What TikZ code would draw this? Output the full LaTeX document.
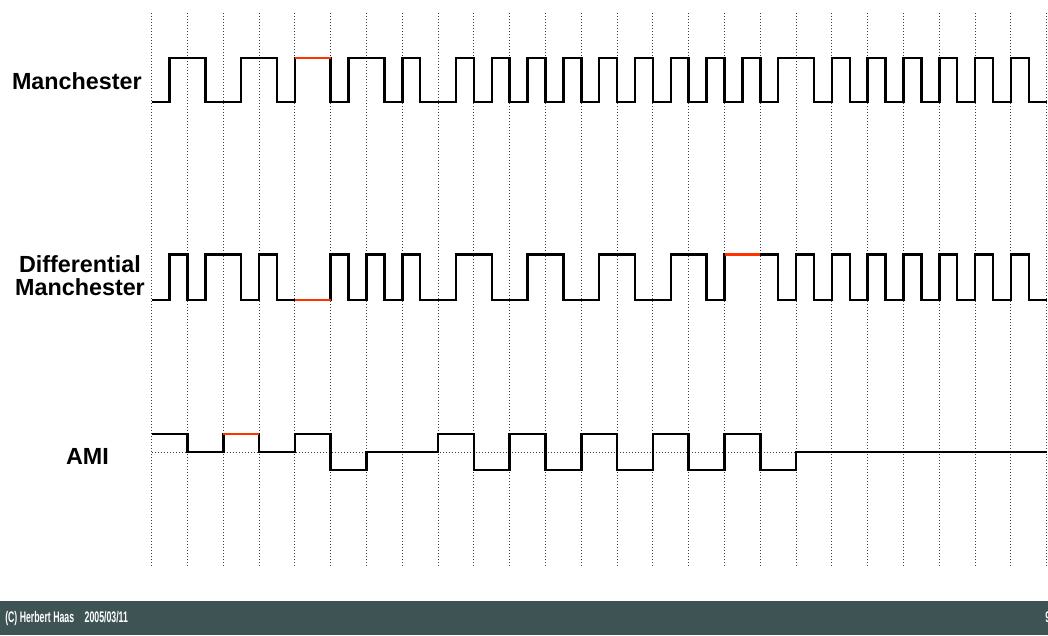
\documentclass[tikz,border=0pt]{standalone}
\usepackage{fontspec}
\setmainfont{Liberation Sans}
\usepackage{graphicx}
\definecolor{barcol}{RGB}{61,83,84}
\definecolor{violation}{RGB}{255,51,0}

\begin{document}
\begin{tikzpicture}[x=0.75pt, y=-0.75pt,
    codename/.style={font=\fontsize{17.5}{17.3}\selectfont\bfseries, inner sep=0pt},
    footer/.style={font=\fontsize{11.5}{12}\selectfont\bfseries, text=white, inner sep=0pt},
    bitline/.style={dash pattern=on 0.75pt off 1.5pt, line width=0.75pt, black!75},
    signal/.style={line width=1.9pt, line join=miter},
    violated/.style={signal, line width=2.1pt, violation}]
    \useasboundingbox (0,0) rectangle (1048,635);

    \node[codename, anchor=east] (manch) at (142,81) {Manchester};
    \node[codename, align=center] (diffman) at (80,276) {Differential\\Manchester};
    \node[codename] (ami) at (87.5,456) {AMI};

    \begin{scope}[xshift=113.775pt, x=26.85pt]
      \foreach \k in {0,...,25}
        \draw[bitline] (\k,13) -- (\k,567);
      \draw[bitline] (0,452) -- (25,452);

      % Manchester, one level per half bit
      \draw[signal] (0,102) \foreach \v [count=\i] in
        {0,1, 1,0, 0,1, 1,0, 1,1, 0,1, 1,0, 1,0,
         0,1, 0,1, 0,1, 0,1, 0,1, 0,1, 0,1, 0,1, 0,1, 0,1,
         1,0, 1,0, 1,0, 1,0, 1,0, 1,0, 1,0}
        { |- (\i/2,{102-44*\v}) };
      \draw[violated] (4,58) -- (5,58);

      % Differential Manchester
      \draw[signal] (0,300) \foreach \v [count=\i] in
        {0,1, 0,1, 1,0, 1,0, 0,0, 1,0, 1,0, 1,0,
         0,1, 1,0, 0,1, 1,0, 0,1, 1,0, 0,1, 1,0, 1,1, 1,0,
         1,0, 1,0, 1,0, 1,0, 1,0, 1,0, 1,0}
        { |- (\i/2,{300-45.5*\v}) };
      \draw[violated] (4,300) -- (5,300);
      \draw[violated] (16,254.5) -- (17,254.5);

      % AMI, one level per bit
      \draw[signal] (0,434) \foreach \v [count=\i] in
        {1,0,1,0,1,-1,0,0,1,-1,1,-1,1,-1,1,-1,1,-1,0,0,0,0,0,0,0}
        { |- (\i,{452-18*(\v)}) };
      \draw[violated] (2,434) -- (3,434);
    \end{scope}

    % footer bar
    \fill[barcol] (0,601) rectangle (1048,635);
    \node[footer, anchor=base west] (credit) at (5,622.5)
      {\scalebox{0.57}[1]{(C) Herbert Haas\hspace{1.2em}2005/03/11}};
    \node[footer, anchor=base west] (pageno) at (1045,622.5) {\scalebox{0.57}[1]{9}};
\end{tikzpicture}
\end{document}
